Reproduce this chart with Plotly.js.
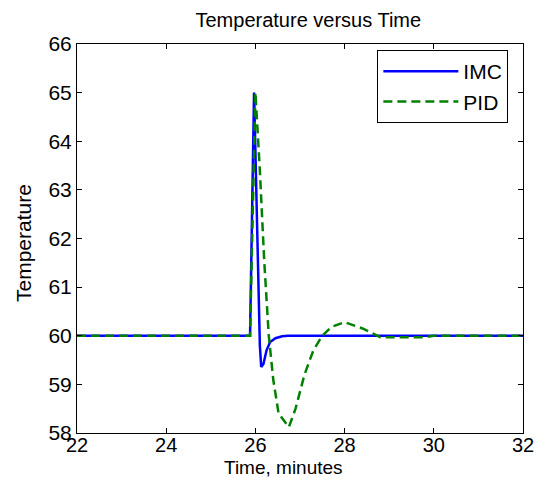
<!DOCTYPE html>
<html><head><meta charset="utf-8">
<script src="https://cdn.plot.ly/plotly-3.0.1.min.js"></script>
<style>html,body{margin:0;padding:0;background:#fff}#c{width:536px;height:478px}</style>
</head><body><div id="c"></div>
<script>
var imcTime = [22, 25.88, 25.97, 26.05, 26.1, 26.13, 26.18, 26.25, 26.33, 26.45, 26.6, 26.73, 32];
var imcTemp = [60, 60, 65, 61.5, 59.8, 59.36, 59.42, 59.7, 59.87, 59.95, 59.99, 60, 60];
var pidTime = [22, 25.88, 26.0, 26.1, 26.2, 26.3, 26.4, 26.52, 26.75, 26.9, 27.1, 27.3, 27.5, 27.7, 28.0, 28.4, 28.8, 29.8, 30.0, 32];
var pidTemp = [60, 60, 65, 63.4, 61.5, 60.0, 59.1, 58.4, 58.12, 58.5, 59.2, 59.7, 60.0, 60.18, 60.28, 60.15, 59.97, 59.97, 60, 60];
var xTicks = [22, 24, 26, 28, 30, 32];
var yTicks = [58, 59, 60, 61, 62, 63, 64, 65, 66];

var font = {family: 'Liberation Sans, Arial, sans-serif', color: '#000'};
var traces = [
  {x: imcTime, y: imcTemp, name: 'IMC', mode: 'lines', line: {color: 'rgb(0,0,255)', width: 2.5}},
  {x: pidTime, y: pidTemp, name: 'PID', mode: 'lines', line: {color: 'rgb(0,128,0)', width: 2.5, dash: '9px,5px'}}
];
var axisCommon = {
  showgrid: false, zeroline: false, showline: true, linecolor: '#000', linewidth: 1,
  mirror: 'ticks', ticks: 'inside', ticklen: 5, tickcolor: '#000',
  tickfont: Object.assign({size: 21}, font)
};
var layout = {
  width: 536, height: 478,
  margin: {l: 77, r: 13, t: 44, b: 45},
  paper_bgcolor: '#fff', plot_bgcolor: '#fff',
  title: {text: 'Temperature versus Time', font: Object.assign({size: 20}, font),
    x: 278 / 536, xref: 'paper', xanchor: 'center', y: 1 - 20 / 478, yanchor: 'middle'},
  xaxis: Object.assign({}, axisCommon, {range: [22, 32], tickvals: xTicks, ticktext: xTicks.map(String),
    ticklabelstandoff: -6, tickfont: Object.assign({size: 20}, font)}),
  yaxis: Object.assign({}, axisCommon, {range: [58, 66], tickvals: yTicks, ticktext: yTicks.map(String)}),
  annotations: [
    {text: 'Time, minutes', xref: 'paper', yref: 'paper', x: (283 - 77) / 446, y: -(467 - 433) / 389,
      xanchor: 'center', yanchor: 'middle', showarrow: false, font: Object.assign({size: 19}, font)},
    {text: 'Temperature', xref: 'paper', yref: 'paper', x: -(77 - 23) / 446, y: (433 - 243) / 389,
      xanchor: 'center', yanchor: 'middle', textangle: -90, showarrow: false, font: Object.assign({size: 21}, font)}
  ],
  legend: {x: 0.673, y: 0.985, xanchor: 'left', yanchor: 'top', bordercolor: '#000', borderwidth: 1.2,
    bgcolor: '#fff', font: Object.assign({size: 21}, font), itemwidth: 75},
  showlegend: true
};
Plotly.newPlot('c', traces, layout, {displayModeBar: false, staticPlot: true});
</script></body></html>
